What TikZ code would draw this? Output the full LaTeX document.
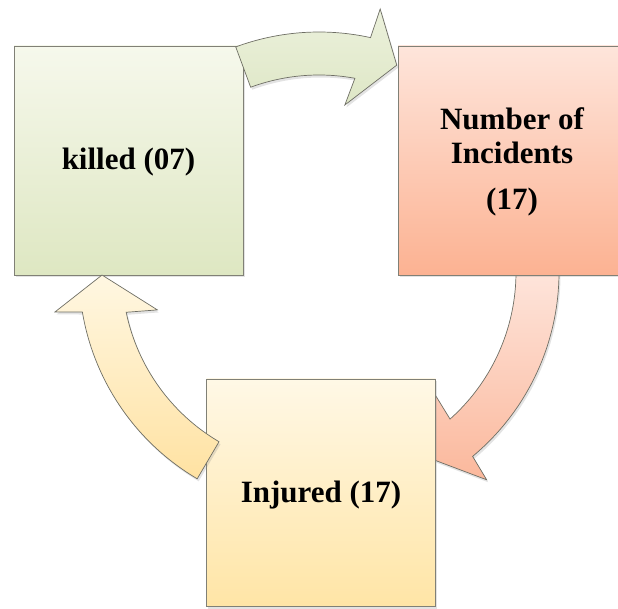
\documentclass[tikz,border=0pt]{standalone}
\usepackage{fontspec}
\setmainfont{Liberation Serif}
\usetikzlibrary{shadows,calc}
\definecolor{boxline}{RGB}{128,128,118}
\definecolor{arrline}{RGB}{110,110,100}
\definecolor{gtop}{RGB}{246,248,236}
\definecolor{gbot}{RGB}{222,231,194}
\definecolor{rtop}{RGB}{254,229,219}
\definecolor{rbot}{RGB}{252,178,146}
\definecolor{ytop}{RGB}{255,248,230}
\definecolor{ybot}{RGB}{255,229,166}
\definecolor{atgtop}{RGB}{236,241,220}
\definecolor{atgbot}{RGB}{222,231,198}
\definecolor{atrtop}{RGB}{254,232,224}
\definecolor{atrbot}{RGB}{251,184,156}
\definecolor{atytop}{RGB}{255,247,226}
\definecolor{atybot}{RGB}{255,226,162}
\begin{document}
\begin{tikzpicture}[x=1pt,y=1pt,
  box/.style={draw=boxline, line width=0.8pt, minimum width=229pt, minimum height=229pt,
    inner sep=0pt, drop shadow={opacity=0.22, shadow xshift=1.5pt, shadow yshift=-2.5pt}},
  lbl/.style={font=\fontsize{31}{33}\selectfont\bfseries, anchor=base, inner sep=0pt},
  arr/.style={draw=arrline, line width=0.7pt, line join=miter,
    drop shadow={opacity=0.22, shadow xshift=1.5pt, shadow yshift=-2.5pt}}]
\useasboundingbox (0,0) rectangle (618,608);
\clip (0,0) rectangle (618,608);
\coordinate (C) at (319,336);
% killed box
\node[box, top color=gtop, bottom color=gbot] (killed) at (128.5,447.5) {};
% right arrow (behind Incidents and Injured)
\path[arr, top color=atrtop, bottom color=atrbot]
  ($(C)+(4:240)$) arc[start angle=4, end angle=-50.2, radius=240]
  -- ($(C)+(-51.1:267)$) -- ($(C)+(-58.4:221)$) -- ($(C)+(-46.6:169)$)
  -- ($(C)+(-48.3:197)$) arc[start angle=-48.3, end angle=4, radius=197] -- cycle;
% Incidents box
\node[box, top color=rtop, bottom color=rbot] (incid) at (512.5,447.5) {};
% top arrow
\path[arr, top color=atgtop, bottom color=atgbot]
  ($(C)+(110.3:240)$) arc[start angle=110.3, end angle=77.6, radius=240]
  -- ($(C)+(76.9:270)$) -- ($(C)+(69.4:221)$) -- ($(C)+(81.2:169)$)
  -- ($(C)+(79.5:197)$) arc[start angle=79.5, end angle=110.3, radius=197] -- cycle;
% Injured box
\node[box, minimum height=227pt, top color=ytop, bottom color=ybot] (injured) at (321,115.5) {};
% left arrow
\path[arr, top color=atytop, bottom color=atybot]
  ($(C)+(239.5:240)$) arc[start angle=239.5, end angle=189.6, radius=240]
  -- ($(C)+(188.6:267)$) -- ($(C)+(180.8:217)$) -- ($(C)+(193.2:166)$)
  -- ($(C)+(191.8:197)$) arc[start angle=191.8, end angle=239.5, radius=197] -- cycle;
% labels
\node[lbl] (tkilled) at (128.5,438.7) {killed (07)};
\node[lbl] (tnum) at (512,478) {Number of};
\node[lbl] (tinc) at (512,444.7) {Incidents};
\node[lbl] (tseventeen) at (512,398) {(17)};
\node[lbl] (tinj) at (321,105.3) {Injured (17)};
\end{tikzpicture}
\end{document}
